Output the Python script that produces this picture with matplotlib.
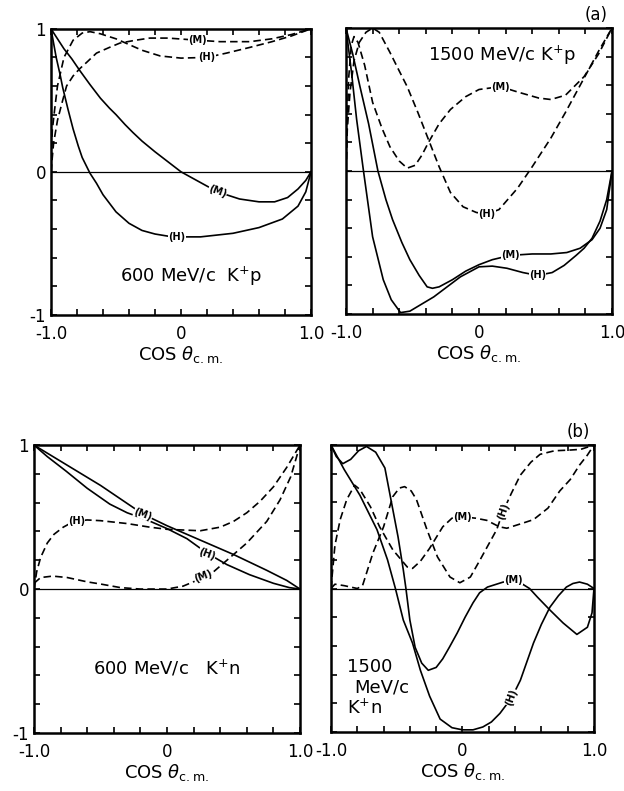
import matplotlib.pyplot as plt
from matplotlib.ticker import MultipleLocator, FixedLocator

plt.rcParams['font.family'] = 'DejaVu Sans'

# ---------- (a) 600 MeV/c K+p ----------
p600_sM_x = [-1, -0.95, -0.9, -0.84, -0.78, -0.7, -0.62, -0.55, -0.5, -0.43, -0.37, -0.3, -0.2, -0.1, 0.0, 0.1, 0.28, 0.45, 0.6, 0.72, 0.82, 0.9, 0.96, 1.0]
p600_sM_y = [1, 0.93, 0.86, 0.79, 0.71, 0.61, 0.515, 0.445, 0.40, 0.33, 0.275, 0.215, 0.14, 0.07, 0.0, -0.05, -0.14, -0.19, -0.21, -0.21, -0.18, -0.12, -0.06, 0.0]
p600_sH_x = [-1, -0.98, -0.96, -0.93, -0.91, -0.87, -0.83, -0.79, -0.76, -0.70, -0.65, -0.6, -0.55, -0.5, -0.45, -0.4, -0.3, -0.2, -0.1, -0.03, 0.15, 0.4, 0.6, 0.78, 0.9, 0.96, 1.0]
p600_sH_y = [1, 0.9, 0.80, 0.68, 0.59, 0.44, 0.30, 0.18, 0.10, -0.01, -0.08, -0.16, -0.22, -0.28, -0.32, -0.36, -0.41, -0.435, -0.45, -0.455, -0.455, -0.43, -0.39, -0.33, -0.24, -0.14, 0.0]
p600_dM_x = [-1, -0.98, -0.95, -0.91, -0.88, -0.83, -0.78, -0.72, -0.65, -0.55, -0.47, -0.35, -0.24, -0.1, 0.13, 0.3, 0.53, 0.7, 0.85, 1.0]
p600_dM_y = [0, 0.2, 0.36, 0.5, 0.6, 0.67, 0.72, 0.77, 0.83, 0.87, 0.90, 0.92, 0.935, 0.935, 0.92, 0.91, 0.91, 0.93, 0.96, 1.0]
p600_dH_x = [-1, -0.99, -0.97, -0.95, -0.9, -0.83, -0.76, -0.70, -0.62, -0.5, -0.4, -0.3, -0.16, 0.0, 0.2, 0.35, 0.53, 0.7, 0.85, 1.0]
p600_dH_y = [0, 0.29, 0.45, 0.6, 0.8, 0.92, 0.97, 0.98, 0.965, 0.93, 0.89, 0.85, 0.81, 0.795, 0.80, 0.83, 0.87, 0.91, 0.95, 1.0]

# ---------- (a) 1500 MeV/c K+p ----------
p1500_sM_x = [-1, -0.95, -0.895, -0.83, -0.76, -0.70, -0.65, -0.58, -0.52, -0.45, -0.39, -0.35, -0.30, -0.2, -0.1, 0.0, 0.1, 0.235, 0.4, 0.54, 0.66, 0.76, 0.85, 0.91, 0.96, 1.0]
p1500_sM_y = [1, 0.82, 0.59, 0.33, 0.0, -0.2, -0.34, -0.5, -0.62, -0.73, -0.81, -0.82, -0.81, -0.76, -0.70, -0.655, -0.62, -0.59, -0.58, -0.58, -0.57, -0.54, -0.48, -0.40, -0.27, 0.0]
p1500_sH_x = [-1, -0.96, -0.92, -0.87, -0.80, -0.72, -0.66, -0.59, -0.52, -0.43, -0.34, -0.24, -0.14, 0.0, 0.1, 0.21, 0.33, 0.44, 0.55, 0.64, 0.73, 0.79, 0.85, 0.91, 0.96, 1.0]
p1500_sH_y = [1, 0.7, 0.36, 0.01, -0.46, -0.76, -0.9, -0.99, -0.98, -0.93, -0.88, -0.81, -0.74, -0.67, -0.665, -0.68, -0.71, -0.73, -0.71, -0.66, -0.59, -0.54, -0.47, -0.35, -0.2, 0.0]
p1500_dM_x = [-1, -0.99, -0.98, -0.96, -0.94, -0.91, -0.86, -0.8, -0.73, -0.67, -0.6, -0.54, -0.48, -0.43, -0.38, -0.3, -0.215, -0.1, 0.0, 0.16, 0.3, 0.45, 0.54, 0.65, 0.79, 0.9, 1.0]
p1500_dM_y = [0, 0.35, 0.65, 0.88, 0.94, 0.9, 0.74, 0.48, 0.3, 0.17, 0.07, 0.02, 0.04, 0.11, 0.2, 0.33, 0.43, 0.52, 0.57, 0.59, 0.55, 0.51, 0.50, 0.53, 0.66, 0.82, 1.0]
p1500_dH_x = [-1, -0.99, -0.97, -0.94, -0.9, -0.85, -0.8, -0.75, -0.67, -0.6, -0.54, -0.46, -0.38, -0.3, -0.215, -0.12, -0.02, 0.06, 0.15, 0.29, 0.4, 0.54, 0.65, 0.79, 0.9, 1.0]
p1500_dH_y = [0, 0.3, 0.55, 0.77, 0.9, 0.97, 1.0, 0.97, 0.83, 0.7, 0.59, 0.41, 0.22, 0.03, -0.15, -0.25, -0.29, -0.30, -0.27, -0.12, 0.03, 0.23, 0.41, 0.65, 0.84, 1.0]

# ---------- (b) 600 MeV/c K+n ----------
n600_sM_x = [-1, -0.75, -0.5, -0.18, 0.0, 0.25, 0.5, 0.75, 0.9, 1.0]
n600_sM_y = [1, 0.86, 0.72, 0.52, 0.44, 0.34, 0.24, 0.13, 0.06, 0.0]
n600_sH_x = [-1, -0.9, -0.76, -0.6, -0.43, -0.3, -0.15, 0.0, 0.15, 0.3, 0.45, 0.62, 0.8, 0.92, 1.0]
n600_sH_y = [1, 0.92, 0.82, 0.70, 0.59, 0.53, 0.48, 0.42, 0.35, 0.25, 0.17, 0.10, 0.04, 0.01, 0.0]
n600_dM_x = [-1, -0.95, -0.86, -0.75, -0.6, -0.5, -0.35, -0.2, 0.0, 0.12, 0.25, 0.35, 0.5, 0.6, 0.75, 0.85, 0.93, 1.0]
n600_dM_y = [0.04, 0.08, 0.09, 0.08, 0.05, 0.035, 0.01, 0.0, 0.0, 0.02, 0.07, 0.12, 0.24, 0.32, 0.47, 0.62, 0.78, 1.0]
n600_dH_x = [-1, -0.98, -0.95, -0.9, -0.85, -0.78, -0.7, -0.6, -0.5, -0.3, -0.13, 0.0, 0.25, 0.4, 0.5, 0.6, 0.7, 0.8, 0.9, 1.0]
n600_dH_y = [0, 0.12, 0.22, 0.32, 0.38, 0.43, 0.47, 0.48, 0.475, 0.455, 0.43, 0.415, 0.405, 0.43, 0.47, 0.53, 0.61, 0.71, 0.845, 1.0]

# ---------- (b) 1500 MeV/c K+n ----------
n1500_sM_x = [-1, -0.96, -0.91, -0.85, -0.79, -0.73, -0.66, -0.59, -0.54, -0.49, -0.45, -0.43, -0.40, -0.36, -0.31, -0.26, -0.2, -0.15, -0.1, -0.04, 0.02, 0.08, 0.13, 0.19, 0.31, 0.44, 0.51, 0.57, 0.665, 0.765, 0.87, 0.95, 0.985, 1.0]
n1500_sM_y = [1, 0.92, 0.87, 0.9, 0.96, 0.99, 0.95, 0.84, 0.60, 0.36, 0.13, 0.0, -0.22, -0.41, -0.52, -0.57, -0.55, -0.49, -0.41, -0.31, -0.2, -0.10, -0.03, 0.01, 0.045, 0.04, 0.0, -0.06, -0.15, -0.24, -0.32, -0.27, -0.17, 0.0]
n1500_sH_x = [-1, -0.9, -0.78, -0.65, -0.57, -0.51, -0.45, -0.38, -0.32, -0.25, -0.17, -0.08, 0.0, 0.08, 0.155, 0.22, 0.285, 0.375, 0.44, 0.54, 0.6, 0.665, 0.73, 0.79, 0.84, 0.89, 0.95, 1.0]
n1500_sH_y = [1, 0.83, 0.65, 0.41, 0.20, 0.0, -0.22, -0.38, -0.57, -0.75, -0.91, -0.97, -0.985, -0.985, -0.965, -0.93, -0.87, -0.76, -0.64, -0.38, -0.25, -0.13, -0.05, 0.01, 0.035, 0.045, 0.03, 0.0]
n1500_dM_x = [-1, -0.97, -0.93, -0.88, -0.82, -0.78, -0.7, -0.63, -0.53, -0.42, -0.38, -0.32, -0.25, -0.15, -0.08, 0.0, 0.1, 0.185, 0.28, 0.337, 0.44, 0.54, 0.65, 0.74, 0.82, 0.89, 0.95, 1.0]
n1500_dM_y = [0, 0.3, 0.48, 0.62, 0.72, 0.69, 0.57, 0.43, 0.27, 0.15, 0.14, 0.19, 0.28, 0.43, 0.49, 0.5, 0.49, 0.475, 0.43, 0.42, 0.45, 0.48, 0.56, 0.68, 0.76, 0.86, 0.93, 1.0]
n1500_dH_x = [-1, -0.97, -0.9, -0.8, -0.76, -0.68, -0.6, -0.53, -0.48, -0.44, -0.39, -0.35, -0.27, -0.19, -0.095, -0.02, 0.06, 0.134, 0.2, 0.26, 0.31, 0.37, 0.44, 0.52, 0.59, 0.7, 0.82, 0.9, 1.0]
n1500_dH_y = [0, 0.03, 0.02, 0.0, 0.02, 0.25, 0.43, 0.64, 0.70, 0.71, 0.68, 0.62, 0.41, 0.22, 0.08, 0.04, 0.08, 0.20, 0.31, 0.41, 0.54, 0.66, 0.79, 0.88, 0.935, 0.96, 0.965, 0.97, 1.0]

x_ticks = [-1, 0, 1]
x_ticklabels = ['-1.0', '0', '1.0']
y_ticks = [-1, 0, 1]
y_ticklabels = ['-1', '0', '1']

DASH = (0, (4.5, 2.5))

fig = plt.figure(figsize=(6.24, 7.91), dpi=100)


def panel(rect, curves, tags, show_y=True):
    ax = fig.add_axes(rect)
    ax.axhline(0, color='k', lw=0.9)
    for x, y, ls in curves:
        ax.plot(x, y, color='k', ls=ls, lw=1.2)
    for x, y, s, rot in tags:
        ax.text(x, y, s, fontsize=7, fontweight='bold', ha='center', va='center',
                rotation=rot, bbox=dict(fc='white', ec='none', pad=0.2))
    ax.set_xlim(-1, 1)
    ax.set_ylim(-1, 1)
    ax.xaxis.set_major_locator(FixedLocator(x_ticks))
    ax.yaxis.set_major_locator(FixedLocator(y_ticks))
    ax.xaxis.set_minor_locator(MultipleLocator(0.2))
    ax.yaxis.set_minor_locator(MultipleLocator(0.2))
    ax.set_xticklabels(x_ticklabels)
    if show_y:
        ax.set_yticklabels(y_ticklabels)
    else:
        ax.set_yticklabels([])
    ax.tick_params(which='both', direction='in', top=True, right=True,
                   length=4, width=1.2, labelsize=12)
    ax.tick_params(axis='x', pad=7)
    for sp in ax.spines.values():
        sp.set_linewidth(1.8)
    ax.set_xlabel(r'COS $\theta_{\rm c.m.}$', fontsize=13, labelpad=1)
    return ax


ax1 = panel([0.0817, 0.602, 0.4167, 0.3616],
            [(p600_sM_x, p600_sM_y, '-'), (p600_sH_x, p600_sH_y, '-'),
             (p600_dM_x, p600_dM_y, DASH), (p600_dH_x, p600_dH_y, DASH)],
            [(0.13, 0.92, '(M)', 0), (0.2, 0.80, '(H)', 0),
             (0.28, -0.14, '(M)', -20), (-0.03, -0.455, '(H)', 0)])
ax1.text(-0.47, -0.73, r'600 MeV/c  K$^{+}$p', fontsize=13, va='center')

ax2 = panel([0.5545, 0.603, 0.4263, 0.3616],
            [(p1500_sM_x, p1500_sM_y, '-'), (p1500_sH_x, p1500_sH_y, '-'),
             (p1500_dM_x, p1500_dM_y, DASH), (p1500_dH_x, p1500_dH_y, DASH)],
            [(0.16, 0.59, '(M)', 0), (0.06, -0.30, '(H)', 0),
             (0.235, -0.59, '(M)', 0), (0.44, -0.73, '(H)', 0)],
            show_y=False)
ax2.text(-0.38, 0.81, r'1500 MeV/c K$^{+}$p', fontsize=13, va='center')
ax2.text(0.97, 1.03, '(a)', fontsize=12, ha='right', va='bottom')

ax3 = panel([0.0545, 0.0733, 0.4263, 0.364],
            [(n600_sM_x, n600_sM_y, '-'), (n600_sH_x, n600_sH_y, '-'),
             (n600_dM_x, n600_dM_y, DASH), (n600_dH_x, n600_dH_y, DASH)],
            [(-0.18, 0.52, '(M)', -20), (-0.68, 0.475, '(H)', 0),
             (0.30, 0.24, '(H)', -20), (0.27, 0.09, '(M)', 20)])
ax3.text(-0.556, -0.55, r'600 MeV/c   K$^{+}$n', fontsize=13, va='center')

ax4 = panel([0.5304, 0.0746, 0.4215, 0.3628],
            [(n1500_sM_x, n1500_sM_y, '-'), (n1500_sH_x, n1500_sH_y, '-'),
             (n1500_dM_x, n1500_dM_y, DASH), (n1500_dH_x, n1500_dH_y, DASH)],
            [(0.0, 0.5, '(M)', 0), (0.31, 0.54, '(H)', 70),
             (0.39, 0.06, '(M)', 0), (0.375, -0.76, '(H)', 70)],
            show_y=False)
ax4.text(-0.88, -0.55, '1500', fontsize=13, va='center')
ax4.text(-0.82, -0.69, 'MeV/c', fontsize=13, va='center')
ax4.text(-0.88, -0.83, r'K$^{+}$n', fontsize=13, va='center')
ax4.text(0.97, 1.03, '(b)', fontsize=12, ha='right', va='bottom')

plt.savefig('out.png', dpi=100)
